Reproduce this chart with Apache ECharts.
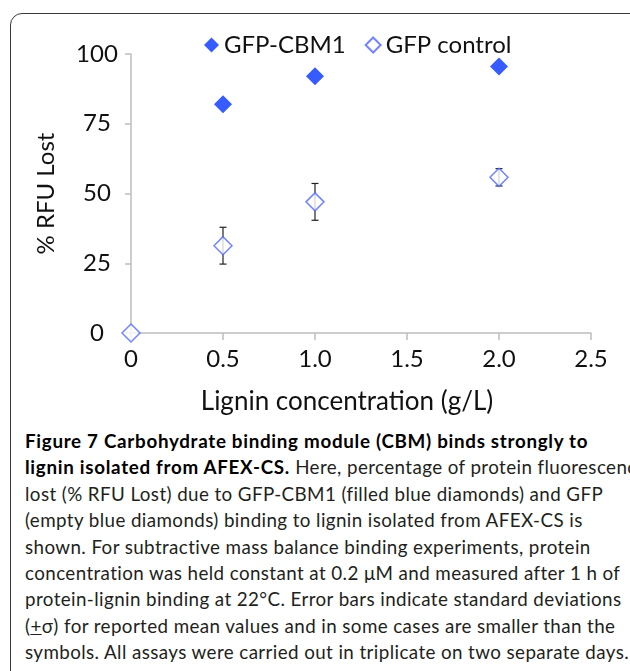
<!DOCTYPE html>
<html>
<head>
<meta charset="utf-8">
<script src="https://cdn.jsdelivr.net/npm/echarts@6/dist/echarts.min.js"></script>
<style>
    html, body {
        margin: 0;
        padding: 0;
        background: #ffffff;
        width: 630px;
        height: 671px;
        overflow: hidden;
    }

    .frame {
        position: absolute;
        left: 10px;
        top: 13px;
        width: 640px;
        height: 720px;
        border: 1.5px solid #3a3a3a;
        border-radius: 12px;
        box-sizing: border-box;
    }

    #chart {
        position: absolute;
        left: 0;
        top: 0;
        width: 630px;
        height: 420px;
    }

    .caption {
        position: absolute;
        left: 25px;
        top: 428px;
        font-family: Lato, "Noto Sans", sans-serif;
        font-size: 18.8px;
        letter-spacing: 0.4px;
        line-height: 26.4px;
        color: #231f20;
        white-space: nowrap;
    }

    .caption b {
        color: #000000;
        font-weight: bold;
        letter-spacing: 0.7px;
    }
</style>
</head>
<body>
<div class="frame"></div>
<div id="chart"></div>
<div class="caption">
    <b>Figure 7 Carbohydrate binding module (CBM) binds strongly to</b><br>
    <b>lignin isolated from AFEX-CS.</b> Here, percentage of protein fluorescence<br>
    lost (% RFU Lost) due to GFP-CBM1 (filled blue diamonds) and GFP<br>
    (empty blue diamonds) binding to lignin isolated from AFEX-CS is<br>
    shown. For subtractive mass balance binding experiments, protein<br>
    concentration was held constant at 0.2 μM and measured after 1 h of<br>
    protein-lignin binding at 22°C. Error bars indicate standard deviations<br>
    (<u>+</u>σ) for reported mean values and in some cases are smaller than the<br>
    symbols. All assays were carried out in triplicate on two separate days.
</div>
<script>
// 数据
const xTicks = [0, 0.5, 1.0, 1.5, 2.0, 2.5];
const cbmX = [0.5, 1.0, 2.0];
const cbmY = [82, 92, 95.5];
const ctrlX = [0, 0.5, 1.0, 2.0];
const ctrlY = [0, 31.3, 47, 55.8];
const ctrlErr = [0, 6.6, 6.6, 3.1];

const chartFont = 'Lato, "Noto Sans", sans-serif';

let myChart = echarts.init(document.getElementById('chart'));

let option = {
    backgroundColor: 'transparent',
    animation: false,
    textStyle: {
        fontFamily: chartFont
    },
    legend: {
        left: 199,
        top: 28,
        itemWidth: 15,
        itemHeight: 15,
        itemGap: 19,
        textStyle: {
            fontSize: 24,
            color: '#111111',
            fontFamily: chartFont
        },
        data: [
            { name: 'GFP-CBM1', icon: 'diamond' },
            { name: 'GFP control', icon: 'diamond' }
        ]
    },
    grid: {
        left: 131,
        right: 39,
        top: 54,
        bottom: 84,
        containLabel: false
    },
    xAxis: {
        type: 'value',
        min: xTicks[0],
        max: xTicks[xTicks.length - 1],
        interval: 0.5,
        name: 'Lignin concentration (g/L)',
        nameLocation: 'middle',
        nameGap: 56,
        nameTextStyle: {
            fontSize: 26,
            color: '#111111',
            padding: [0, 28, 0, 0]
        },
        axisLine: {
            lineStyle: { color: '#bdbdbd', width: 1.5 }
        },
        axisTick: {
            show: true,
            inside: false,
            length: 7,
            lineStyle: { color: '#bdbdbd', width: 1.5 }
        },
        axisLabel: {
            fontSize: 24,
            color: '#111111',
            margin: 14,
            formatter: function (v) {
                return v === 0 ? '0' : v.toFixed(1);
            }
        },
        splitLine: { show: false }
    },
    yAxis: {
        type: 'value',
        min: 0,
        max: 100,
        interval: 25,
        name: '% RFU Lost',
        nameLocation: 'middle',
        nameGap: 73,
        nameTextStyle: {
            fontSize: 24,
            color: '#111111'
        },
        axisLine: {
            show: true,
            lineStyle: { color: '#bdbdbd', width: 1.5 }
        },
        axisTick: {
            show: true,
            length: 6,
            lineStyle: { color: '#bdbdbd', width: 1.5 }
        },
        axisLabel: {
            fontSize: 24,
            color: '#111111',
            align: 'center',
            margin: 34
        },
        splitLine: { show: false }
    },
    series: [
        {
            name: 'error',
            type: 'custom',
            z: 1,
            silent: true,
            renderItem: function (params, api) {
                let x = api.value(0);
                let lo = api.value(1);
                let hi = api.value(2);
                let pLo = api.coord([x, lo]);
                let pHi = api.coord([x, hi]);
                let cap = 3.5;
                let style = { stroke: '#222222', lineWidth: 1.2 };
                return {
                    type: 'group',
                    children: [
                        { type: 'line', shape: { x1: pLo[0], y1: pLo[1], x2: pHi[0], y2: pHi[1] }, style: style },
                        { type: 'line', shape: { x1: pLo[0] - cap, y1: pLo[1], x2: pLo[0] + cap, y2: pLo[1] }, style: style },
                        { type: 'line', shape: { x1: pHi[0] - cap, y1: pHi[1], x2: pHi[0] + cap, y2: pHi[1] }, style: style }
                    ]
                };
            },
            data: ctrlX.map(function (x, i) {
                return [x, ctrlY[i] - ctrlErr[i], ctrlY[i] + ctrlErr[i]];
            }).filter(function (d) { return d[2] > d[1]; })
        },
        {
            name: 'GFP-CBM1',
            type: 'scatter',
            z: 3,
            symbol: 'diamond',
            symbolSize: 18,
            itemStyle: {
                color: '#0433ff'
            },
            data: cbmX.map(function (x, i) { return [x, cbmY[i]]; })
        },
        {
            name: 'GFP control',
            type: 'scatter',
            z: 3,
            symbol: 'diamond',
            symbolSize: 18,
            itemStyle: {
                color: '#ffffff',
                borderColor: '#4f66ff',
                borderWidth: 1.5
            },
            data: ctrlX.map(function (x, i) { return [x, ctrlY[i]]; })
        }
    ]
};

myChart.setOption(option);
window.addEventListener('resize', function () {
    myChart.resize();
});
</script>
</body>
</html>
